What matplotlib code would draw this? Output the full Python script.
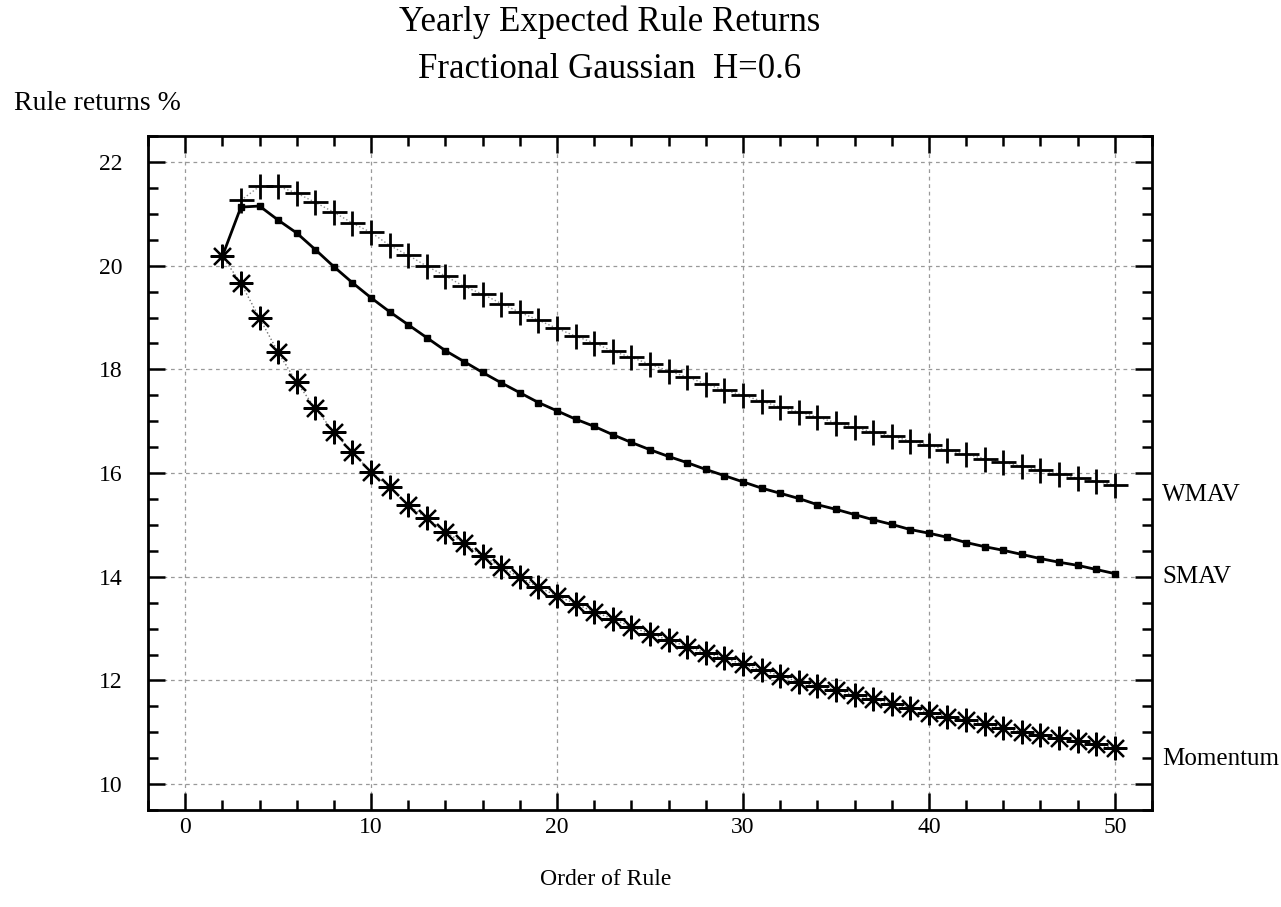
import numpy as np
import matplotlib
matplotlib.use("Agg")
import matplotlib.pyplot as plt
from matplotlib.ticker import MultipleLocator

plt.rcParams['font.family'] = ['Liberation Serif', 'DejaVu Serif']

# order of rule
x_smav = list(range(2, 51))
x_wmav = list(range(3, 51))
x_mom = list(range(2, 51))

smav = [20.18, 21.13, 21.15, 20.88, 20.63, 20.31, 19.98, 19.67, 19.38, 19.11,
        18.86, 18.61, 18.36, 18.15, 17.94, 17.74, 17.55, 17.36, 17.20, 17.04,
        16.90, 16.74, 16.59, 16.45, 16.32, 16.20, 16.07, 15.95, 15.83, 15.71,
        15.61, 15.51, 15.39, 15.30, 15.20, 15.10, 15.01, 14.91, 14.84, 14.76,
        14.66, 14.58, 14.51, 14.43, 14.35, 14.28, 14.22, 14.14, 14.06]

wmav = [21.26, 21.53, 21.53, 21.40, 21.22, 21.03, 20.82, 20.64, 20.39,
        20.20, 19.99, 19.80, 19.60, 19.45, 19.27, 19.10, 18.95, 18.79, 18.64,
        18.51, 18.35, 18.23, 18.10, 17.97, 17.85, 17.72, 17.60, 17.50, 17.39,
        17.27, 17.18, 17.08, 16.97, 16.88, 16.79, 16.71, 16.62, 16.54, 16.44,
        16.36, 16.28, 16.21, 16.13, 16.06, 15.98, 15.90, 15.84, 15.77]

momentum = [20.18, 19.66, 18.99, 18.33, 17.75, 17.25, 16.79, 16.40, 16.02, 15.73,
            15.38, 15.13, 14.86, 14.65, 14.40, 14.19, 13.99, 13.80, 13.63, 13.48,
            13.32, 13.19, 13.03, 12.90, 12.78, 12.65, 12.53, 12.43, 12.31, 12.20,
            12.09, 11.97, 11.89, 11.82, 11.72, 11.64, 11.55, 11.47, 11.38, 11.30,
            11.24, 11.16, 11.08, 11.01, 10.94, 10.88, 10.83, 10.77, 10.70]

fig = plt.figure(figsize=(12.81, 9.07), dpi=100)
ax = fig.add_axes([0.1155, 0.1069, 0.7838, 0.7431])

# lines
ax.plot(x_wmav, wmav, color='0.55', lw=1.0, ls=':', marker='+', ms=18, mew=2.0,
        mec='black', zorder=3)
ax.plot(x_mom, momentum, color='0.45', lw=1.0, ls=':', marker=(8, 2, 0), ms=17,
        mew=1.6, mec='black', zorder=3)
ax.plot(x_smav, smav, color='black', lw=2.0, marker='s', ms=5, mfc='black',
        mec='black', zorder=4)

ax.set_xlim(-2, 52)
ax.set_ylim(9.5, 22.5)
ax.xaxis.set_major_locator(MultipleLocator(10))
ax.xaxis.set_minor_locator(MultipleLocator(2))
ax.yaxis.set_major_locator(MultipleLocator(2))
ax.yaxis.set_minor_locator(MultipleLocator(0.5))

ax.tick_params(which='both', direction='in', top=True, right=True,
               labelsize=17, width=1.8)
ax.tick_params(axis='x', pad=5)
ax.tick_params(axis='y', pad=18)
ax.tick_params(which='major', length=12)
ax.tick_params(which='minor', length=7)
for s in ax.spines.values():
    s.set_linewidth(2.0)

ax.grid(True, which='major', color='0.6', ls=(0, (3, 3)), lw=0.9)

# texts
fig.text(0.476, 0.9757, "Yearly Expected Rule Returns", ha='center', va='center', fontsize=25)
fig.text(0.476, 0.923, "Fractional Gaussian  H=0.6", ha='center', va='center', fontsize=25)
fig.text(0.011, 0.886, "Rule returns %", ha='left', va='center', fontsize=20)
fig.text(0.473, 0.03, "Order of Rule", ha='center', va='center', fontsize=17)

ax.text(1.01, 0.467, "WMAV", transform=ax.transAxes, ha='left', va='center', fontsize=18)
ax.text(1.01, 0.346, "SMAV", transform=ax.transAxes, ha='left', va='center', fontsize=18)
ax.text(1.01, 0.076, "Momentum", transform=ax.transAxes, ha='left', va='center', fontsize=18)

fig.savefig("out.png", dpi=100)
